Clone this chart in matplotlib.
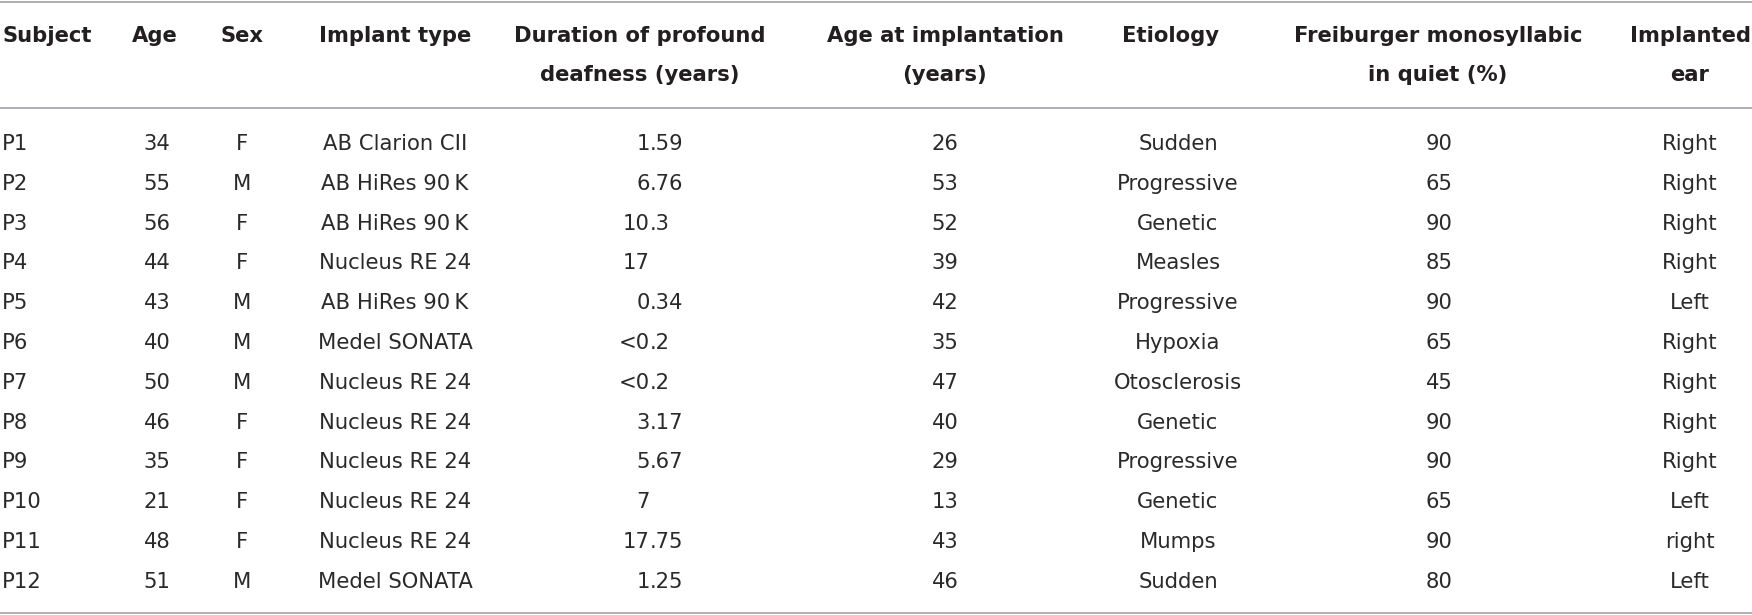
import matplotlib
matplotlib.use("Agg")
import matplotlib.pyplot as plt

# ---------------- data ----------------
header_line1 = ["Subject", "Age", "Sex", "Implant type", "Duration of profound",
                "Age at implantation", "Etiology", "Freiburger monosyllabic", "Implanted"]
header_line2 = ["", "", "", "", "deafness (years)", "(years)", "", "in quiet (%)", "ear"]

subjects = ["P1", "P2", "P3", "P4", "P5", "P6", "P7", "P8", "P9", "P10", "P11", "P12"]
ages = [34, 55, 56, 44, 43, 40, 50, 46, 35, 21, 48, 51]
sexes = ["F", "M", "F", "F", "M", "M", "M", "F", "F", "F", "F", "M"]
implants = ["AB Clarion CII", "AB HiRes 90\u2009K", "AB HiRes 90\u2009K", "Nucleus RE 24",
            "AB HiRes 90\u2009K", "Medel SONATA", "Nucleus RE 24", "Nucleus RE 24",
            "Nucleus RE 24", "Nucleus RE 24", "Nucleus RE 24", "Medel SONATA"]
durations = ["1.59", "6.76", "10.3", "17", "0.34", "<0.2", "<0.2", "3.17", "5.67",
             "7", "17.75", "1.25"]
age_at_implant = [26, 53, 52, 39, 42, 35, 47, 40, 29, 13, 43, 46]
etiologies = ["Sudden", "Progressive", "Genetic", "Measles", "Progressive", "Hypoxia",
              "Otosclerosis", "Genetic", "Progressive", "Genetic", "Mumps", "Sudden"]
freiburger = [90, 65, 90, 85, 90, 65, 45, 90, 90, 65, 90, 80]
implanted_ear = ["Right", "Right", "Right", "Right", "Left", "Right", "Right", "Right",
                 "Right", "Left", "right", "Left"]

# ---------------- layout ----------------
W, H = 1752, 615
fig = plt.figure(figsize=(W / 100, H / 100), dpi=100)
ax = fig.add_axes([0, 0, 1, 1])
ax.set_xlim(0, W)
ax.set_ylim(H, 0)
ax.axis("off")

FONT = ["DejaVu Sans"]
HDR_SIZE = 15.2
DATA_SIZE = 15.2
TXT = "#231f20"
DATA_TXT = "#2a2a2a"
RULE = "#a7a9ac"

# column anchors (x, alignment)
hdr_cols = [(2, "left"), (155, "center"), (242, "center"), (395, "center"),
            (640, "center"), (945, "center"), (1171, "center"), (1438, "center"),
            (1690, "center")]

for (x, ha), l1, l2 in zip(hdr_cols, header_line1, header_line2):
    ax.text(x, 42, l1, ha=ha, va="baseline", fontsize=HDR_SIZE, fontweight="bold",
            family=FONT, color=TXT)
    if l2:
        ax.text(x, 81, l2, ha=ha, va="baseline", fontsize=HDR_SIZE, fontweight="bold",
                family=FONT, color=TXT)

# rules
for yr in (1.5, 108, 612.5):
    ax.plot([0, W], [yr, yr], color=RULE, lw=1.3, solid_capstyle="butt")

row0, dy = 150, 39.8
DEC_X = 650
for i in range(len(subjects)):
    y = row0 + i * dy
    kw = dict(va="baseline", fontsize=DATA_SIZE, family=FONT, color=DATA_TXT)
    ax.text(2, y, subjects[i], ha="left", **kw)
    ax.text(157, y, str(ages[i]), ha="center", **kw)
    ax.text(242, y, sexes[i], ha="center", **kw)
    ax.text(395, y, implants[i], ha="center", **kw)
    d = durations[i]
    if "." in d:
        ip, fp = d.split(".", 1)
        ax.text(DEC_X, y, ip, ha="right", **kw)
        ax.text(DEC_X, y, "." + fp, ha="left", **kw)
    else:
        ax.text(DEC_X, y, d, ha="right", **kw)
    ax.text(945, y, str(age_at_implant[i]), ha="center", **kw)
    ax.text(1178, y, etiologies[i], ha="center", **kw)
    ax.text(1439, y, str(freiburger[i]), ha="center", **kw)
    ax.text(1690, y, implanted_ear[i], ha="center", **kw)

fig.savefig("out.png", dpi=100, facecolor="white")
